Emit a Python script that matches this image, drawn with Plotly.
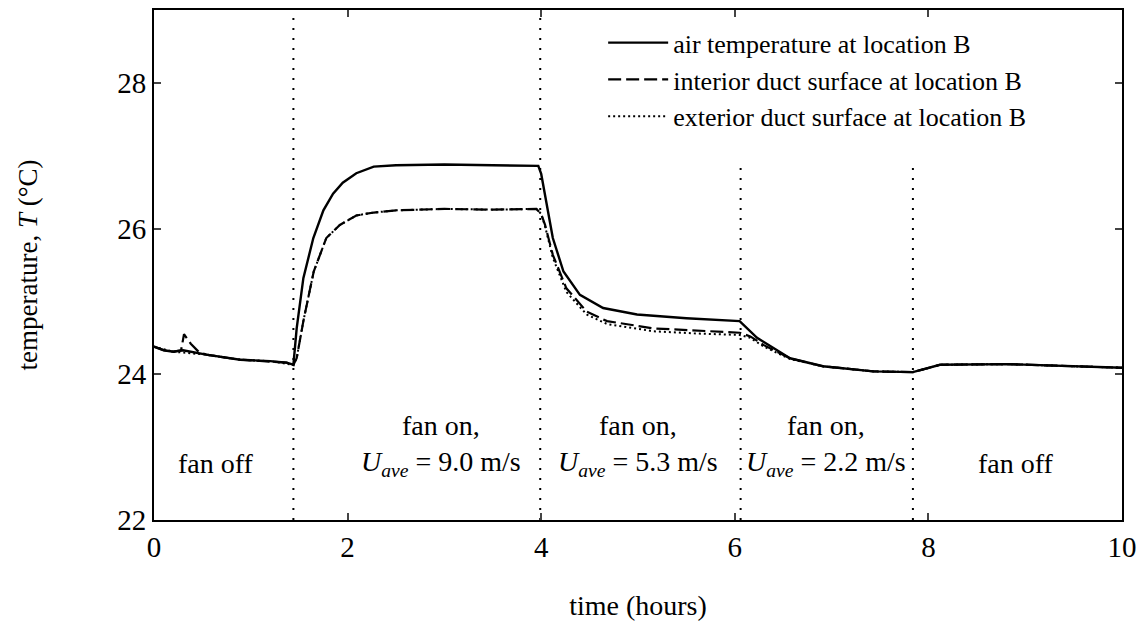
import plotly.graph_objects as go

# ---- data ----
t_air = [0, 0.1, 0.2, 0.3, 0.54, 0.89, 1.2, 1.37, 1.42, 1.44, 1.474, 1.543, 1.646, 1.75, 1.85, 1.95, 2.09, 2.27, 2.5, 3.0, 3.5, 3.97,
         4.0, 4.06, 4.12, 4.23, 4.4, 4.64, 4.99, 5.5, 6.05, 6.23, 6.57, 6.91, 7.43, 7.84, 8.12, 8.81, 9.5, 10]
T_air = [24.38, 24.33, 24.31, 24.33, 24.27, 24.20, 24.18, 24.16, 24.14, 24.13, 24.63, 25.32, 25.87, 26.25, 26.48, 26.63, 26.76, 26.85, 26.87, 26.88, 26.87, 26.86,
         26.75, 26.32, 25.87, 25.41, 25.09, 24.91, 24.82, 24.77, 24.73, 24.50, 24.22, 24.11, 24.04, 24.03, 24.13, 24.14, 24.11, 24.09]

t_int = [0, 0.1, 0.2, 0.28, 0.31, 0.38, 0.46, 0.54, 0.89, 1.2, 1.37, 1.44, 1.474, 1.543, 1.65, 1.78, 1.92, 2.09, 2.27, 2.5, 3.0, 3.5, 3.95,
         4.0, 4.04, 4.12, 4.26, 4.47, 4.68, 5.16, 5.6, 6.05, 6.16, 6.3, 6.57, 6.91, 7.43, 7.84, 8.12, 8.81, 9.5, 10]
T_int = [24.38, 24.33, 24.31, 24.33, 24.55, 24.42, 24.31, 24.27, 24.20, 24.18, 24.16, 24.13, 24.22, 24.73, 25.41, 25.87, 26.05, 26.18, 26.22, 26.25, 26.27, 26.26, 26.27,
         26.2, 26.05, 25.64, 25.18, 24.86, 24.73, 24.63, 24.60, 24.57, 24.52, 24.40, 24.22, 24.11, 24.04, 24.03, 24.13, 24.14, 24.11, 24.09]

t_ext = [0, 0.2, 0.54, 0.89, 1.2, 1.44, 1.474, 1.543, 1.65, 1.78, 1.92, 2.09, 2.27, 2.5, 3.0, 3.5, 3.95,
         4.0, 4.04, 4.12, 4.26, 4.47, 4.68, 5.16, 5.6, 6.05, 6.16, 6.3, 6.57, 6.91, 7.43, 7.84, 8.12, 8.81, 9.5, 10]
T_ext = [24.38, 24.31, 24.27, 24.20, 24.18, 24.13, 24.22, 24.73, 25.41, 25.87, 26.05, 26.18, 26.22, 26.25, 26.27, 26.26, 26.27,
         26.2, 26.03, 25.6, 25.13, 24.82, 24.69, 24.59, 24.56, 24.54, 24.50, 24.38, 24.21, 24.11, 24.04, 24.03, 24.13, 24.14, 24.11, 24.09]

series_names = ["air temperature at location B",
                "interior duct surface at location B",
                "exterior duct surface at location B"]

# regime change times and top of each divider line
switch_t = [1.44, 3.99, 6.06, 7.84]
switch_top = [29.0, 29.0, 26.85, 26.85]

region_x = [0.64, 2.96, 5.0, 6.94, 8.9]
region_labels = ["fan off",
                 "fan on,<br><i>U</i><sub><i>ave</i></sub> = 9.0 m/s",
                 "fan on,<br><i>U</i><sub><i>ave</i></sub> = 5.3 m/s",
                 "fan on,<br><i>U</i><sub><i>ave</i></sub> = 2.2 m/s",
                 "fan off"]
region_y = [22.77, 23.02, 23.02, 23.02, 22.77]

x_ticks = [0, 2, 4, 6, 8, 10]
y_ticks = [22, 24, 26, 28]

FONT = "Liberation Serif, Times New Roman, serif"

fig = go.Figure()

for ts, top in zip(switch_t, switch_top):
    fig.add_trace(go.Scatter(x=[ts, ts], y=[22, top], mode="lines",
                             line=dict(color="black", width=2, dash="2px,8px"),
                             showlegend=False, hoverinfo="skip"))

fig.add_trace(go.Scatter(x=t_air, y=T_air, mode="lines", name=series_names[0],
                         line=dict(color="black", width=2.4)))
fig.add_trace(go.Scatter(x=t_int, y=T_int, mode="lines", name=series_names[1],
                         line=dict(color="black", width=2.2, dash="13px,5px")))
fig.add_trace(go.Scatter(x=t_ext, y=T_ext, mode="lines", name=series_names[2],
                         line=dict(color="black", width=2, dash="2px,3px")))

for xv, yv, txt in zip(region_x, region_y, region_labels):
    fig.add_annotation(x=xv, y=yv, text=txt, showarrow=False,
                       font=dict(family=FONT, size=28, color="black"),
                       xanchor="center", yanchor="middle", align="center")

fig.update_layout(
    width=1147, height=630,
    margin=dict(l=154, r=25, t=8, b=110),
    paper_bgcolor="white", plot_bgcolor="white",
    font=dict(family=FONT, size=28, color="black"),
    showlegend=True,
    legend=dict(x=0.464, y=0.982, xanchor="left", yanchor="top",
                bgcolor="rgba(0,0,0,0)", borderwidth=0,
                font=dict(family=FONT, size=26, color="black"),
                tracegroupgap=0, itemwidth=60),
    xaxis=dict(range=[0, 10], tickvals=x_ticks, ticks="inside", ticklen=7,
               tickwidth=1.5, showline=True, linecolor="black", linewidth=2,
               mirror="ticks", showgrid=False, zeroline=False,
               tickfont=dict(family=FONT, size=29),
               title=dict(text="time (hours)", standoff=34,
                          font=dict(family=FONT, size=28))),
    yaxis=dict(range=[22, 29], tickvals=y_ticks, ticks="inside", ticklen=7,
               tickwidth=1.5, showline=True, linecolor="black", linewidth=2,
               mirror="ticks", showgrid=False, zeroline=False,
               tickfont=dict(family=FONT, size=29),
               title=dict(text="temperature, <i>T</i> (°C)", standoff=72,
                          font=dict(family=FONT, size=27))),
)

fig.write_html("out.html", config={"displayModeBar": False},
               post_script="document.body.style.margin='0';document.body.style.padding='0';")
